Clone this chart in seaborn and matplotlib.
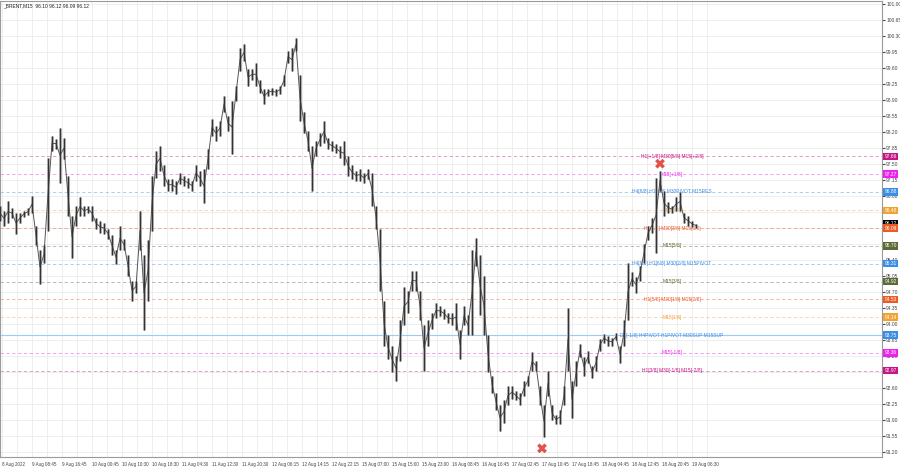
import numpy as np
import matplotlib
matplotlib.use('Agg')
import matplotlib.pyplot as plt
import seaborn as sns

# ---- data (BRENT M15, one bar per ~4px) ----
hi = [96.58, 96.47, 96.69, 96.54, 96.43, 96.41, 96.47, 96.52, 96.80, 96.14,
      95.60, 95.71, 97.63, 98.11, 98.05, 98.29, 98.07, 97.24, 96.36, 96.58,
      96.76, 96.58, 96.58, 96.58, 96.32, 96.25, 96.21, 96.08, 95.93, 95.60,
      96.14, 95.86, 95.49, 94.94, 94.94, 96.47, 95.49, 95.82, 97.24, 97.78,
      97.89, 97.46, 97.17, 97.17, 97.13, 97.30, 97.24, 97.19, 97.13, 97.46,
      97.35, 97.39, 97.83, 98.48, 98.33, 98.44, 98.99, 98.55, 98.88, 99.21,
      100.02, 100.12, 99.58, 99.58, 99.71, 99.32, 99.14, 99.14, 99.16, 99.14,
      99.21, 99.43, 99.97, 100.02, 100.26, 99.43, 98.62, 98.22, 97.89, 98.00,
      98.16, 98.44, 98.07, 98.00, 97.94, 97.89, 98.00, 97.67, 97.46, 97.35,
      97.39, 97.30, 97.39, 97.30, 96.58, 96.08, 94.50, 93.74, 93.52, 93.30,
      94.07, 94.79, 94.72, 95.16, 95.16, 94.72, 93.96, 94.07, 94.24, 94.44,
      94.39, 94.33, 94.24, 94.24, 94.44, 93.85, 94.39, 94.18, 95.60, 95.88,
      95.49, 95.05, 93.74, 92.86, 92.49, 92.21, 92.32, 92.64, 92.64, 92.53,
      92.47, 92.75, 92.86, 93.37, 93.19, 92.64, 92.21, 92.97, 92.21, 91.99,
      92.10, 92.64, 94.35, 92.75, 93.19, 93.56, 93.26, 93.41, 93.08, 93.30,
      93.67, 93.78, 93.72, 93.69, 93.80, 93.52, 94.07, 95.33, 95.12, 95.03,
      95.27, 95.75, 96.14, 96.30, 97.19, 97.35, 96.91, 96.65, 96.58, 96.76,
      96.87, 96.43, 96.36, 96.25, 96.19]

lo = [96.25, 96.14, 96.21, 96.30, 95.97, 96.21, 96.34, 96.38, 96.43, 95.71,
      94.87, 95.33, 96.03, 97.78, 97.83, 97.08, 97.61, 96.36, 95.44, 96.14,
      96.36, 96.36, 96.43, 96.25, 96.08, 95.99, 95.97, 95.86, 95.49, 95.31,
      95.60, 95.60, 95.05, 94.50, 94.68, 95.60, 93.85, 94.50, 96.03, 97.19,
      97.35, 97.02, 96.91, 96.91, 96.84, 97.06, 97.02, 96.97, 96.91, 97.13,
      97.02, 96.63, 97.39, 98.11, 98.00, 98.11, 98.62, 98.22, 97.72, 98.88,
      99.53, 99.75, 99.21, 99.32, 99.21, 99.05, 98.81, 98.99, 99.01, 98.99,
      99.03, 99.21, 99.71, 99.53, 99.97, 98.44, 98.18, 97.78, 96.91, 97.67,
      97.89, 97.96, 97.83, 97.78, 97.74, 97.63, 97.46, 97.24, 97.17, 97.13,
      97.13, 97.08, 97.17, 96.58, 96.08, 94.72, 93.52, 93.23, 92.93, 92.75,
      93.19, 93.96, 94.24, 94.72, 94.72, 94.07, 92.97, 93.52, 93.89, 94.13,
      94.17, 94.11, 94.02, 93.96, 93.85, 93.23, 93.96, 93.74, 93.74, 95.27,
      94.18, 93.74, 92.93, 92.49, 92.10, 91.66, 91.83, 92.21, 92.36, 92.32,
      92.21, 92.42, 92.64, 92.97, 92.97, 92.21, 91.51, 92.42, 91.88, 91.81,
      91.81, 92.21, 92.97, 91.94, 92.64, 93.26, 92.86, 93.13, 92.80, 92.97,
      93.41, 93.58, 93.52, 93.52, 93.63, 93.13, 93.52, 94.07, 94.83, 94.68,
      94.94, 95.33, 95.82, 95.99, 95.55, 96.91, 96.36, 96.43, 96.43, 96.47,
      96.47, 96.21, 96.14, 96.12, 96.10]

last_price = 96.12

# murrey levels
level_prices = [97.66, 97.27, 96.88, 96.48, 96.09, 95.70, 95.31,
                94.92, 94.53, 94.14, 93.75, 93.36, 92.97]
level_text = ["H1[+1/8] M30[5/8] M15[+2/8]", "M15[+1/8]",
              "H4[8/8] H1RES M30PIVOT M15RES", "M15[7/8]",
              "H1[7/8] M30[3/8] M15[6/8]", "M15[5/8]",
              "H4[6/8] H1[6/8] M30[2/8] M15PIVOT", "M15[3/8]",
              "H1[5/8] M30[1/8] M15[2/8]", "M15[1/8]",
              "D1[-1/8] H4PIVOT H1PIVOT M30SUP M15SUP", "M15[-1/8]",
              "H1[3/8] M30[-1/8] M15[-2/8]"]
level_colors = ["#C71585", "#EE22EE", "#3A8EE6", "#F2A232", "#EE5A24",
                "#5B6B35", "#3A8EE6", "#5B6B35", "#EE5A24", "#F2A232",
                "#3A8EE6", "#EE22EE", "#C71585"]

# signal crosses (bar, price)
cross_bar = [165, 135.5]
cross_price = [97.50, 91.27]

time_labels = ["8 Aug 2022", "9 Aug 08:45", "9 Aug 16:45", "10 Aug 00:45",
               "10 Aug 10:30", "10 Aug 18:30", "11 Aug 04:30", "11 Aug 12:30",
               "11 Aug 20:30", "12 Aug 06:15", "12 Aug 14:15", "12 Aug 22:15",
               "15 Aug 07:00", "15 Aug 15:00", "15 Aug 23:00", "16 Aug 08:45",
               "16 Aug 16:45", "17 Aug 02:45", "17 Aug 10:45", "17 Aug 18:45",
               "18 Aug 04:45", "18 Aug 12:45", "18 Aug 20:45", "19 Aug 06:30"]

# ---- plot ----
sns.set_style("whitegrid")
plt.rcParams['font.family'] = ['Liberation Sans', 'DejaVu Sans']
fs = 3.5

fig = plt.figure(figsize=(9, 4.68), dpi=100)
ax = fig.add_axes([0.0, 0.0225, 0.98, 0.976])

bars = np.arange(len(hi))
mid = (np.array(hi) + np.array(lo)) / 2
ax.vlines(bars, lo, hi, color="#bdbdbd", lw=2.2, zorder=3)
sns.lineplot(x=bars, y=mid, color="#555555", lw=0.7, ax=ax, zorder=3.5)
ax.vlines(bars, lo, hi, color="#333333", lw=0.9, zorder=4)

for p, t, c in zip(level_prices, level_text, level_colors):
    if p == 93.75:
        ax.axhline(p, color="#9ccbf5", lw=0.8, zorder=2)
    else:
        ax.axhline(p, color=c, lw=0.6, alpha=0.5, ls=(0, (4, 3)), zorder=2)
    ax.text(168, p, t, ha="center", va="center", fontsize=fs, color=c, zorder=2.5)

sns.scatterplot(x=cross_bar, y=cross_price, marker="X", s=50, color="#E0524C",
                edgecolor="none", ax=ax, zorder=5)

ax.set_xlim(0, 220.5)
ax.set_ylim(91.07, 101.066)

yt = np.round(np.arange(91.20, 101.01, 0.35), 2)
ax.set_yticks(yt)
ax.set_yticklabels([f"{v:.2f}" for v in yt])
ax.yaxis.tick_right()
ax.tick_params(axis="y", labelsize=fs, length=2, pad=1, colors="#444444")

xt = 0.5 + 7.5 * np.arange(len(time_labels))
ax.set_xticks(xt)
ax.set_xticklabels(time_labels, ha="left")
ax.set_xticks(xt + 3.75, minor=True)
ax.tick_params(axis="x", which="both", labelsize=3.25, length=2, pad=1.5, colors="#444444")

ax.grid(True, which="both", color="#ebebeb", lw=0.6)
ax.set_axisbelow(True)
for s in ax.spines.values():
    s.set_color("#9a9a9a")
    s.set_linewidth(0.8)

# price tags on the right
tr = ax.get_yaxis_transform()
ax.text(1.003, last_price + 0.06, f"{last_price:.2f}", transform=tr, ha="left", va="center",
        fontsize=fs, color="white", clip_on=False,
        bbox=dict(boxstyle="square,pad=0.25", fc="black", ec="none"))
for p, c in zip(level_prices, level_colors):
    ax.text(1.003, p, f"{p:.2f}", transform=tr, ha="left", va="center",
            fontsize=fs, color="white", clip_on=False,
            bbox=dict(boxstyle="square,pad=0.25", fc=c, ec="none"))

ax.text(0.004, 0.995, "_BRENT,M15  96.10 96.12 96.09 96.12", transform=ax.transAxes,
        ha="left", va="top", fontsize=fs, color="#222222")

fig.savefig("out.png", dpi=100)
